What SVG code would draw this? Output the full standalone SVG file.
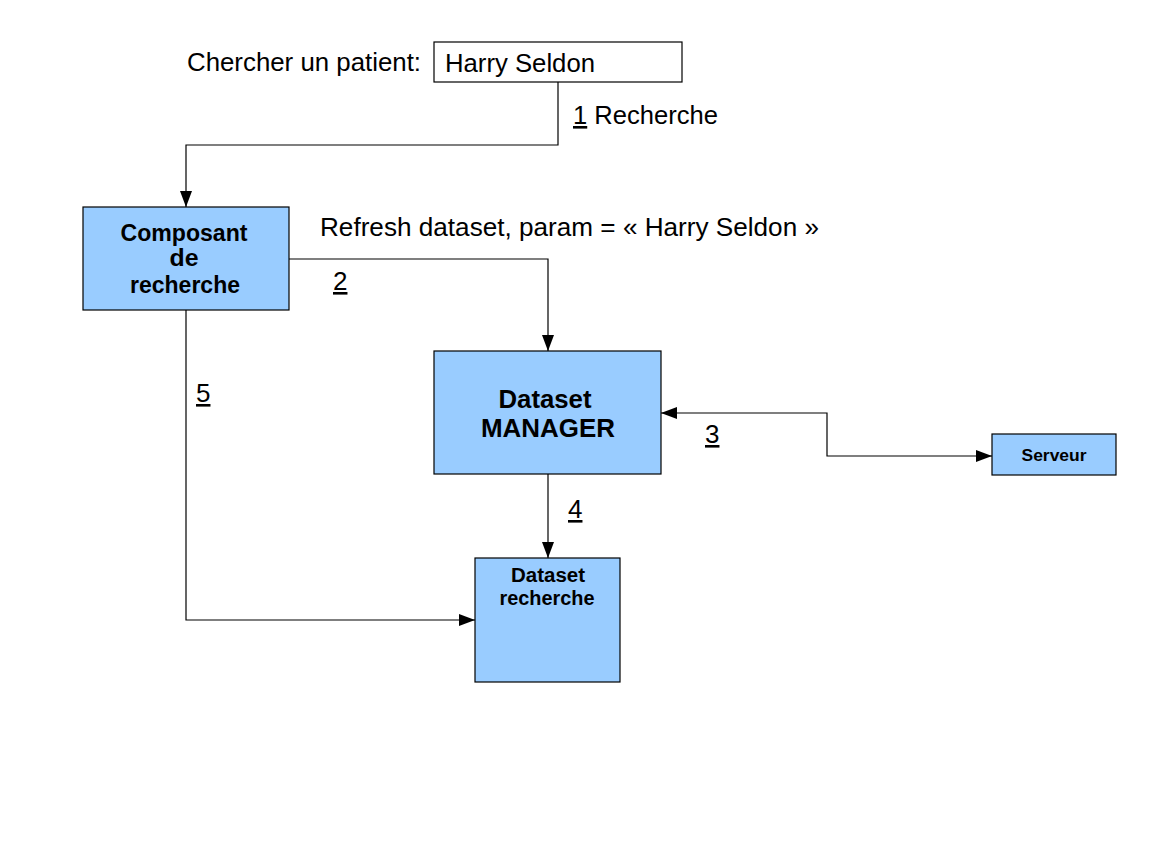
<svg xmlns="http://www.w3.org/2000/svg" width="1157" height="868" viewBox="0 0 1157 868">
<style>
.box{fill:#99ccff;stroke:#000;stroke-width:1.2}
.line{fill:none;stroke:#000;stroke-width:1.2}
.t{font-family:"Liberation Sans",Arial,sans-serif;fill:#000;font-size:26px}
.b{font-family:"Liberation Sans",Arial,sans-serif;font-weight:bold;fill:#000;text-anchor:middle}
</style>
<defs>
<marker id="arr" viewBox="0 0 16 12" refX="16" refY="6" markerWidth="16" markerHeight="12" markerUnits="userSpaceOnUse" orient="auto-start-reverse">
<path d="M0,0 L16,6 L0,12 Z" fill="#000"/>
</marker>
</defs>
<rect width="1157" height="868" fill="#fff"/>
<g id="search-input">
<text class="t" x="187" y="71" textLength="234" lengthAdjust="spacingAndGlyphs">Chercher un patient:</text>
<rect x="434" y="42" width="248" height="40" fill="#fff" stroke="#000" stroke-width="1.2"/>
<text class="t" x="445" y="72" textLength="150" lengthAdjust="spacingAndGlyphs">Harry Seldon</text>
</g>
<g id="composant">
<rect class="box" x="83" y="207" width="206" height="103"/>
<text class="b" x="184" y="241" font-size="23" textLength="127" lengthAdjust="spacingAndGlyphs">Composant</text>
<text class="b" x="184" y="266" font-size="23" textLength="29" lengthAdjust="spacingAndGlyphs">de</text>
<text class="b" x="185" y="293" font-size="23" textLength="110" lengthAdjust="spacingAndGlyphs">recherche</text>
</g>
<g id="manager">
<rect class="box" x="434" y="351" width="227" height="123"/>
<text class="b" x="545" y="408" font-size="26" textLength="93" lengthAdjust="spacingAndGlyphs">Dataset</text>
<text class="b" x="548" y="437" font-size="26" textLength="134" lengthAdjust="spacingAndGlyphs">MANAGER</text>
</g>
<g id="serveur">
<rect class="box" x="992" y="434" width="124" height="41"/>
<text class="b" x="1054" y="461" font-size="17" textLength="65" lengthAdjust="spacingAndGlyphs">Serveur</text>
</g>
<g id="dataset-recherche">
<rect class="box" x="475" y="558" width="145" height="124"/>
<text class="b" x="548" y="582" font-size="20" textLength="74" lengthAdjust="spacingAndGlyphs">Dataset</text>
<text class="b" x="547" y="605" font-size="20" textLength="95" lengthAdjust="spacingAndGlyphs">recherche</text>
</g>
<g id="connectors">
<polyline class="line" points="558,82 558,145 186,145 186,207" marker-end="url(#arr)"/>
<polyline class="line" points="289,259 548,259 548,351" marker-end="url(#arr)"/>
<polyline class="line" points="661,413 827,413 827,456 992,456" marker-start="url(#arr)" marker-end="url(#arr)"/>
<polyline class="line" points="548,474 548,558" marker-end="url(#arr)"/>
<polyline class="line" points="186,310 186,620 475,620" marker-end="url(#arr)"/>
</g>
<g id="labels">
<text class="t" x="573" y="124" textLength="145" lengthAdjust="spacingAndGlyphs"><tspan text-decoration="underline">1</tspan> Recherche</text>
<text class="t" x="320" y="236" textLength="499" lengthAdjust="spacingAndGlyphs">Refresh dataset, param = « Harry Seldon »</text>
<text class="t" x="333" y="290" text-decoration="underline">2</text>
<text class="t" x="705" y="443" text-decoration="underline">3</text>
<text class="t" x="568" y="518" text-decoration="underline">4</text>
<text class="t" x="196" y="402" text-decoration="underline">5</text>
</g>
</svg>
